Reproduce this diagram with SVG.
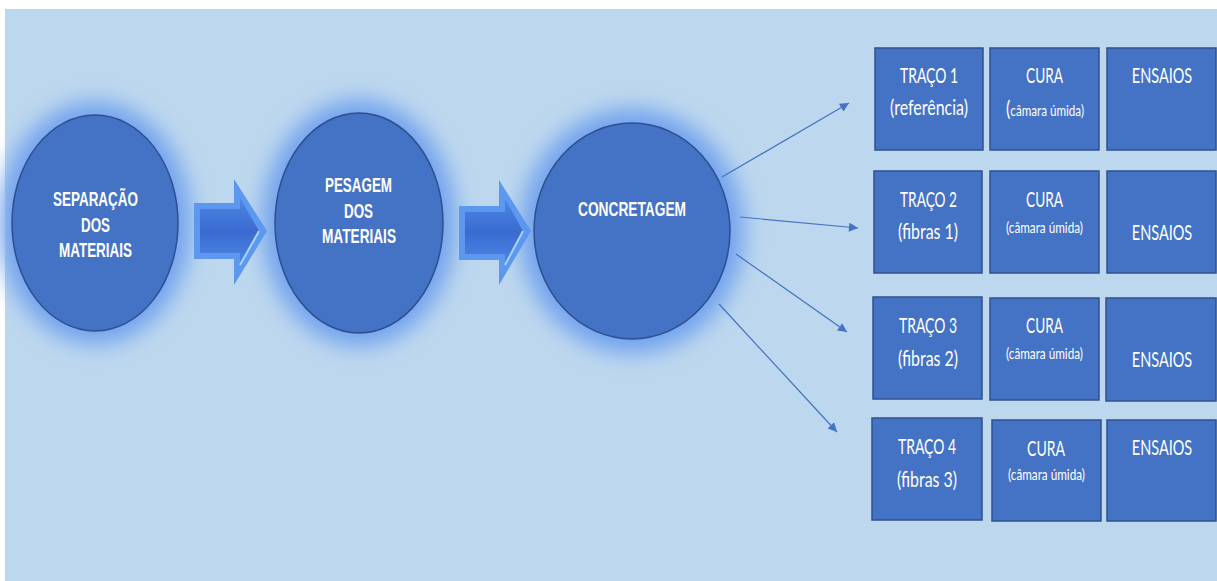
<svg xmlns="http://www.w3.org/2000/svg" width="1217" height="581" viewBox="0 0 1217 581">
<style>
.circ{fill:#4472C4;stroke:#2F4F8F;stroke-width:1.5}
.halo{fill:#6FA2EE}
.ct{font-family:"Liberation Sans",Arial,sans-serif;font-weight:bold;font-size:20px;fill:#fff}
.box{fill:#4472C4;stroke:#2F528F;stroke-width:1.5}
.bt{font-family:Lato,"Liberation Sans",sans-serif;font-size:21px;fill:#fff}
.et{font-family:Lato,"Liberation Sans",sans-serif;font-size:14.5px;fill:#fff}
.st{font-family:Lato,"Liberation Sans",sans-serif;font-size:15px;fill:#fff}
.conn{stroke:#4472C4;stroke-width:1.2;fill:none;marker-end:url(#ah)}
.aout{fill:#5C98EE}
.ain{fill:url(#ag)}
.ahl{stroke:#A9D2FF;stroke-width:2;fill:none}
</style>
<defs>
<filter id="glow" x="-50%" y="-50%" width="200%" height="200%"><feGaussianBlur stdDeviation="11"/></filter>
<marker id="ah" viewBox="0 0 10 10" refX="10" refY="5" markerWidth="11" markerHeight="9" markerUnits="userSpaceOnUse" orient="auto"><path d="M0,0 L10,5 L0,10 Z" fill="#4472C4"/></marker>
<linearGradient id="ag" x1="0" y1="0" x2="0" y2="1"><stop offset="0" stop-color="#4E86E6"/><stop offset="0.5" stop-color="#3A6BD0"/><stop offset="1" stop-color="#4E86E6"/></linearGradient>
</defs>
<rect x="5" y="9" width="1212" height="572" fill="#BDD7EE"/>

<g id="node-separacao" text-anchor="middle">
<ellipse class="halo" cx="95" cy="223" rx="96" ry="121" filter="url(#glow)"/>
<ellipse class="circ" cx="95" cy="223" rx="83" ry="108"/>
<text class="ct" text-anchor="middle" x="95.5" y="206" textLength="85" lengthAdjust="spacingAndGlyphs">SEPARAÇÃO</text>
<text class="ct" text-anchor="middle" x="95.5" y="232" textLength="29" lengthAdjust="spacingAndGlyphs">DOS</text>
<text class="ct" text-anchor="middle" x="95.5" y="257" textLength="73" lengthAdjust="spacingAndGlyphs">MATERIAIS</text>
</g>

<g id="node-pesagem" text-anchor="middle">
<ellipse class="halo" cx="359" cy="223" rx="97" ry="123" filter="url(#glow)"/>
<ellipse class="circ" cx="359" cy="223" rx="84" ry="110"/>
<text class="ct" text-anchor="middle" x="358.5" y="192" textLength="67" lengthAdjust="spacingAndGlyphs">PESAGEM</text>
<text class="ct" text-anchor="middle" x="358.5" y="218" textLength="29" lengthAdjust="spacingAndGlyphs">DOS</text>
<text class="ct" text-anchor="middle" x="359" y="243" textLength="74" lengthAdjust="spacingAndGlyphs">MATERIAIS</text>
</g>

<g id="node-concretagem" text-anchor="middle">
<ellipse class="halo" cx="632" cy="231" rx="112" ry="122" filter="url(#glow)"/>
<ellipse class="circ" cx="632" cy="231" rx="98" ry="108"/>
<text class="ct" text-anchor="middle" x="632" y="216" textLength="108" lengthAdjust="spacingAndGlyphs">CONCRETAGEM</text>
</g>

<g id="arrow-1">
<polygon class="aout" points="194,203 234,203 234,179 267,231 234,285 234,259 194,259"/>
<polygon class="ain" points="200,209 240,209 240,198 259,231 240,265 240,253 200,253"/>
<polyline class="ahl" points="259,231 240,265"/>
</g>
<g id="arrow-2">
<polygon class="aout" points="459,206 499,206 499,180 531,231 499,285 499,260 459,260"/>
<polygon class="ain" points="465,212 505,212 505,199 523,231 505,265 505,254 465,254"/>
<polyline class="ahl" points="523,231 505,265"/>
</g>

<g id="connectors">
<line class="conn" x1="722" y1="177" x2="849" y2="103"/>
<line class="conn" x1="740" y1="217" x2="858" y2="228"/>
<line class="conn" x1="736" y1="254" x2="847" y2="332"/>
<line class="conn" x1="719" y1="304" x2="837" y2="432"/>
</g>

<g id="traco1" text-anchor="middle"><rect class="box" x="875" y="48" width="108" height="102"/>
<text class="bt" text-anchor="middle" x="929" y="83" textLength="58" lengthAdjust="spacingAndGlyphs">TRAÇO 1</text>
<text class="bt" text-anchor="middle" x="929" y="115" textLength="78" lengthAdjust="spacingAndGlyphs">(referência)</text></g>
<g id="cura1" text-anchor="middle"><rect class="box" x="990" y="48" width="109" height="102"/>
<text class="bt" text-anchor="middle" x="1044.5" y="83" textLength="37" lengthAdjust="spacingAndGlyphs">CURA</text>
<text class="st" text-anchor="middle" x="1045" y="116" textLength="78" lengthAdjust="spacingAndGlyphs"><tspan font-size="21">(</tspan>câmara úmida)</text></g>
<g id="ensaios1" text-anchor="middle"><rect class="box" x="1107" y="48" width="109" height="102"/>
<text class="et" text-anchor="middle" transform="translate(1162,83) scale(1,1.45)">ENSAIOS</text></g>

<g id="traco2" text-anchor="middle"><rect class="box" x="874" y="171" width="108" height="102"/>
<text class="bt" text-anchor="middle" x="928.5" y="207" textLength="57" lengthAdjust="spacingAndGlyphs">TRAÇO 2</text>
<text class="bt" text-anchor="middle" x="928" y="239" textLength="60" lengthAdjust="spacingAndGlyphs">(fibras 1)</text></g>
<g id="cura2" text-anchor="middle"><rect class="box" x="990" y="171" width="109" height="102"/>
<text class="bt" text-anchor="middle" x="1044.5" y="207" textLength="37" lengthAdjust="spacingAndGlyphs">CURA</text>
<text class="st" text-anchor="middle" x="1044.5" y="233" textLength="77" lengthAdjust="spacingAndGlyphs">(câmara úmida)</text></g>
<g id="ensaios2" text-anchor="middle"><rect class="box" x="1107" y="171" width="109" height="102"/>
<text class="et" text-anchor="middle" transform="translate(1162,240) scale(1,1.45)">ENSAIOS</text></g>

<g id="traco3" text-anchor="middle"><rect class="box" x="873" y="297" width="109" height="102"/>
<text class="bt" text-anchor="middle" x="928" y="333" textLength="58" lengthAdjust="spacingAndGlyphs">TRAÇO 3</text>
<text class="bt" text-anchor="middle" x="928" y="366" textLength="60" lengthAdjust="spacingAndGlyphs">(fibras 2)</text></g>
<g id="cura3" text-anchor="middle"><rect class="box" x="990" y="298" width="109" height="102"/>
<text class="bt" text-anchor="middle" x="1044.5" y="333" textLength="37" lengthAdjust="spacingAndGlyphs">CURA</text>
<text class="st" text-anchor="middle" x="1044.5" y="359" textLength="77" lengthAdjust="spacingAndGlyphs">(câmara úmida)</text></g>
<g id="ensaios3" text-anchor="middle"><rect class="box" x="1106" y="298" width="110" height="103"/>
<text class="et" text-anchor="middle" transform="translate(1162,367) scale(1,1.45)">ENSAIOS</text></g>

<g id="traco4" text-anchor="middle"><rect class="box" x="872" y="418" width="110" height="102"/>
<text class="bt" text-anchor="middle" x="927" y="454" textLength="58" lengthAdjust="spacingAndGlyphs">TRAÇO 4</text>
<text class="bt" text-anchor="middle" x="927" y="487" textLength="60" lengthAdjust="spacingAndGlyphs">(fibras 3)</text></g>
<g id="cura4" text-anchor="middle"><rect class="box" x="992" y="420" width="109" height="101"/>
<text class="bt" text-anchor="middle" x="1046" y="456" textLength="38" lengthAdjust="spacingAndGlyphs">CURA</text>
<text class="st" text-anchor="middle" x="1046.5" y="480" textLength="77" lengthAdjust="spacingAndGlyphs">(câmara úmida)</text></g>
<g id="ensaios4" text-anchor="middle"><rect class="box" x="1107" y="420" width="109" height="101"/>
<text class="et" text-anchor="middle" transform="translate(1162,455) scale(1,1.45)">ENSAIOS</text></g>
</svg>
